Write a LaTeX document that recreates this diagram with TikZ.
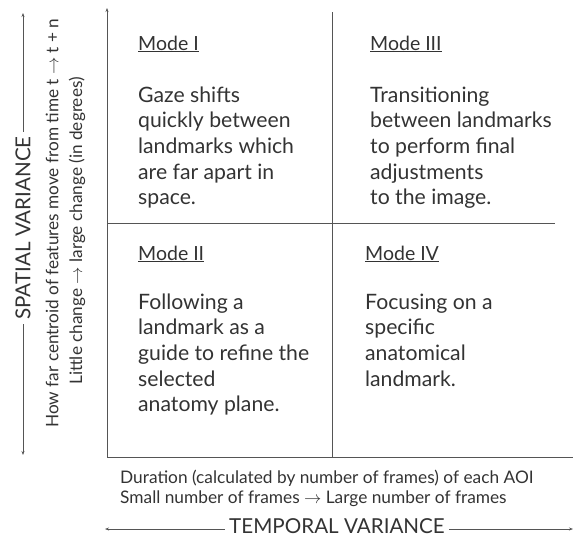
\documentclass[tikz,border=0pt]{standalone}
\usepackage{fontspec}
\setmainfont{Lato}
\usetikzlibrary{arrows.meta}
\definecolor{txt}{HTML}{333333}
\definecolor{ln}{HTML}{555555}
\tikzset{
  axis/.style={draw=ln, line width=0.8pt},
  tip/.style={-{Stealth[length=4pt,width=3pt]}},
  tips/.style={{Stealth[length=4pt,width=3pt]}-{Stealth[length=4pt,width=3pt]}},
  body/.style={anchor=base west, align=left, inner sep=0pt, text=txt,
    font=\fontsize{21.2}{25.7}\selectfont},
  ttl/.style={anchor=base west, inner sep=0pt, text=txt, font=\fontsize{19.5}{23}\selectfont},
  side/.style={rotate=90, inner sep=0pt, text=txt, font=\fontsize{17.2}{20}\selectfont},
  bot/.style={anchor=base west, inner sep=0pt, text=txt, font=\fontsize{17.3}{20}\selectfont},
  big/.style={fill=white, inner xsep=4pt, inner ysep=0pt, text=txt, font=\fontsize{20.6}{24}\selectfont},
}
\begin{document}
\begin{tikzpicture}[x=1pt,y=-1pt]
\useasboundingbox (0,0) rectangle (573,539);
% axes and grid
\coordinate (o) at (107,457);
\coordinate (ytop) at (107,8);
\coordinate (xend) at (573,457);
\coordinate (vtop) at (332,12);
\coordinate (vbot) at (332,457);
\coordinate (hl) at (107,223);
\coordinate (hr) at (555,223);
\draw[axis,tip] (o) -- (ytop);
\draw[axis] (o) -- (xend);
\draw[axis] (vtop) -- (vbot);
\draw[axis] (hl) -- (hr);
% quadrant texts (base anchor = baseline of the last line)
\node[ttl] (m1) at (138,50) {\underline{Mode I}};
\node[body] (b1) at (138,204.8) {Gaze shifts\\quickly between\\landmarks which\\are far apart in\\space.};
\node[ttl] (m3) at (370,50) {\underline{Mode III}};
\node[body] (b3) at (370,204.8) {Transitioning\\between landmarks\\to perform final\\adjustments\\to the image.};
\node[ttl] (m2) at (138,260) {\underline{Mode II}};
\node[body] (b2) at (138,411.8) {Following a\\landmark as a\\guide to refine the\\selected\\anatomy plane.};
\node[ttl] (m4) at (365,260) {\underline{Mode IV}};
\node[body] (b4) at (365,386.1) {Focusing on a\\specific\\anatomical\\landmark.};
% left labels
\coordinate (svt) at (23,13);
\coordinate (svb) at (23,455);
\draw[axis,tips] (svb) -- (svt);
\node[big,rotate=90] (sv) at (23,228) {SPATIAL VARIANCE};
\node[side] (s1) at (52,223) {How far centroid of features move from time t $\rightarrow$ t + n};
\node[side] (s2) at (77,231) {Little change $\rightarrow$ large change (in degrees)};
% bottom labels
\node[bot] (d1) at (120,483) {Duration (calculated by number of frames) of each AOI};
\node[bot] (d2) at (120,503) {Small number of frames $\rightarrow$ Large number of frames};
\coordinate (tvl) at (105,529);
\coordinate (tvr) at (573,529);
\draw[axis,tips] (tvl) -- (tvr);
\node[big] (tv) at (337,526) {TEMPORAL VARIANCE};
\end{tikzpicture}
\end{document}
